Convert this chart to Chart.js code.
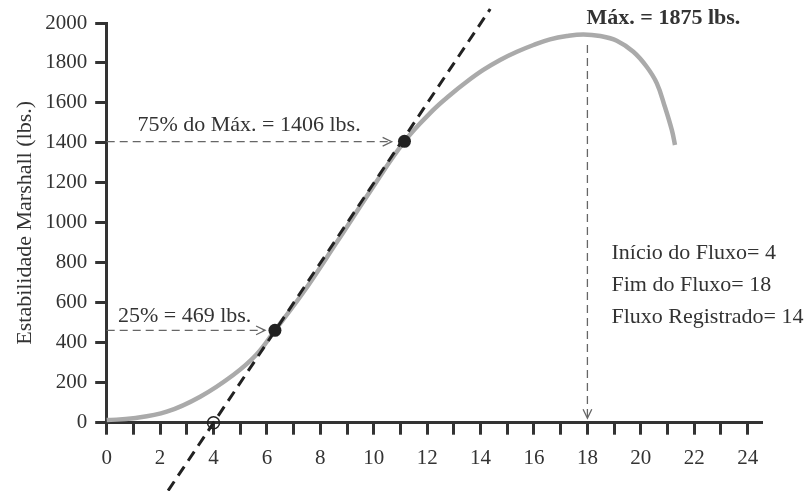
<!DOCTYPE html>
<html>
<head>
<meta charset="utf-8">
<script src="https://cdn.jsdelivr.net/npm/chart.js@4.4.1/dist/chart.umd.min.js"></script>
<style>
  body { margin: 0; background: #fff; }
  #wrap { width: 808px; height: 491px; }
</style>
</head>
<body>
<div id="wrap"><canvas id="chart"></canvas></div>
<script>
// curva de estabilidade
const curveX = [0, 1, 2.25, 3.5, 4.75, 5.6, 6.3, 7.35, 8.6, 9.85, 11.15, 12.23, 12.86, 13.48, 14.1, 14.73, 15.36, 15.98, 16.6, 17.23, 17.85, 18.48, 19.1, 19.72, 20.22, 20.6, 20.9, 21.16, 21.28];
const curveY = [13, 22, 55, 130, 240, 340, 462, 650, 900, 1155, 1408, 1565, 1640, 1706, 1765, 1815, 1856, 1890, 1918, 1935, 1943, 1935, 1911, 1856, 1781, 1698, 1581, 1465, 1390];

// tangente tracejada
const tangentX = [2.3, 14.36];
const tangentY = [-340, 2070];

// pontos 25% / 75%
const keyX = [6.3, 11.15];
const keyY = [462, 1408];

// inicio do fluxo
const startX = [4];
const startY = [0];

const flowLines = ['Início do Fluxo= 4', 'Fim do Fluxo= 18', 'Fluxo Registrado= 14'];

const SERIF = '"Liberation Serif", "Times New Roman", serif';
const INK = '#333';

const pts = (xs, ys) => xs.map((x, i) => ({ x: x, y: ys[i] }));

function arrow(c, x1, y1, x2, y2) {
    c.save();
    c.strokeStyle = '#666';
    c.lineWidth = 1.3;
    c.setLineDash([8, 5]);
    c.beginPath();
    c.moveTo(x1, y1);
    c.lineTo(x2, y2);
    c.stroke();
    c.setLineDash([]);
    const a = Math.atan2(y2 - y1, x2 - x1), L = 10;
    c.beginPath();
    c.moveTo(x2 - L * Math.cos(a - 0.45), y2 - L * Math.sin(a - 0.45));
    c.lineTo(x2, y2);
    c.lineTo(x2 - L * Math.cos(a + 0.45), y2 - L * Math.sin(a + 0.45));
    c.stroke();
    c.restore();
}

const notes = {
    id: 'notes',
    afterDatasetsDraw(chart) {
        const c = chart.ctx, sx = chart.scales.x, sy = chart.scales.y;
        const X = v => sx.getPixelForValue(v), Y = v => sy.getPixelForValue(v);

        arrow(c, X(0), Y(1406), X(10.67), Y(1406));
        arrow(c, X(0), Y(462), X(5.93), Y(462));
        arrow(c, X(18), Y(1890), X(18), Y(22));

        c.save();
        c.fillStyle = INK;
        c.textBaseline = 'middle';
        c.textAlign = 'left';
        c.font = '22px ' + SERIF;
        c.fillText('75% do Máx. = 1406 lbs.', X(1.15), Y(1406) - 16);
        c.fillText('25% = 469 lbs.', X(0.42), Y(462) - 14);
        flowLines.forEach((t, i) => c.fillText(t, X(18.9), Y(848) + i * 32));
        c.font = 'bold 22px ' + SERIF;
        c.fillText('Máx. = 1875 lbs.', X(17.97), Y(2000) - 5);
        c.restore();
    }
};

const gridOpts = (len) => ({
    display: true, drawOnChartArea: false, drawTicks: true,
    color: INK, lineWidth: 3, tickLength: len, tickWidth: 3, tickColor: INK
});

const main = () => {
    const ctx = document.getElementById('chart');
    new Chart(ctx, {
        type: 'line',
        data: {
            datasets: [
                {
                    data: pts(keyX, keyY), showLine: false, order: 1, clip: false,
                    pointRadius: 6.5, pointBackgroundColor: '#222', pointBorderWidth: 0
                },
                {
                    data: pts(startX, startY), showLine: false, order: 2, clip: false,
                    pointRadius: 6, pointBackgroundColor: 'rgba(0,0,0,0)',
                    pointBorderColor: '#222', pointBorderWidth: 1.5
                },
                {
                    data: pts(tangentX, tangentY), order: 3, clip: false,
                    borderColor: '#222', borderWidth: 3, borderDash: [11, 7], pointRadius: 0
                },
                {
                    data: pts(curveX, curveY), order: 4, clip: false,
                    borderColor: '#aaaaaa', borderWidth: 4.5, pointRadius: 0,
                    tension: 0.4, borderCapStyle: 'butt'
                }
            ]
        },
        options: {
            responsive: true,
            maintainAspectRatio: false,
            animation: false,
            layout: { padding: { top: 23, right: 47, left: 0, bottom: 0 } },
            plugins: { legend: { display: false }, tooltip: { enabled: false } },
            scales: {
                x: {
                    type: 'linear', min: 0, max: 24.5,
                    afterBuildTicks: s => { s.ticks = s.ticks.filter(t => Number.isInteger(t.value)); },
                    afterFit: s => { s.height = 68.3; },
                    ticks: {
                        stepSize: 1, includeBounds: false, autoSkip: false, maxRotation: 0,
                        padding: 11, color: INK, font: { family: SERIF, size: 21 },
                        callback: v => (v % 2 === 0 ? String(v) : '')
                    },
                    grid: gridOpts(12),
                    border: { display: true, width: 3, color: INK }
                },
                y: {
                    min: 0, max: 2000,
                    afterFit: s => { s.width = 106.7; },
                    ticks: {
                        stepSize: 200, padding: 8, color: INK, font: { family: SERIF, size: 21 },
                        callback: v => String(v)
                    },
                    grid: gridOpts(11.5),
                    border: { display: true, width: 3, color: INK },
                    title: {
                        display: true, text: 'Estabilidade Marshall (lbs.)', color: INK,
                        font: { family: SERIF, size: 22 }, padding: { top: 12 }
                    }
                }
            }
        },
        plugins: [notes]
    });
};

main();
</script>
</body>
</html>
